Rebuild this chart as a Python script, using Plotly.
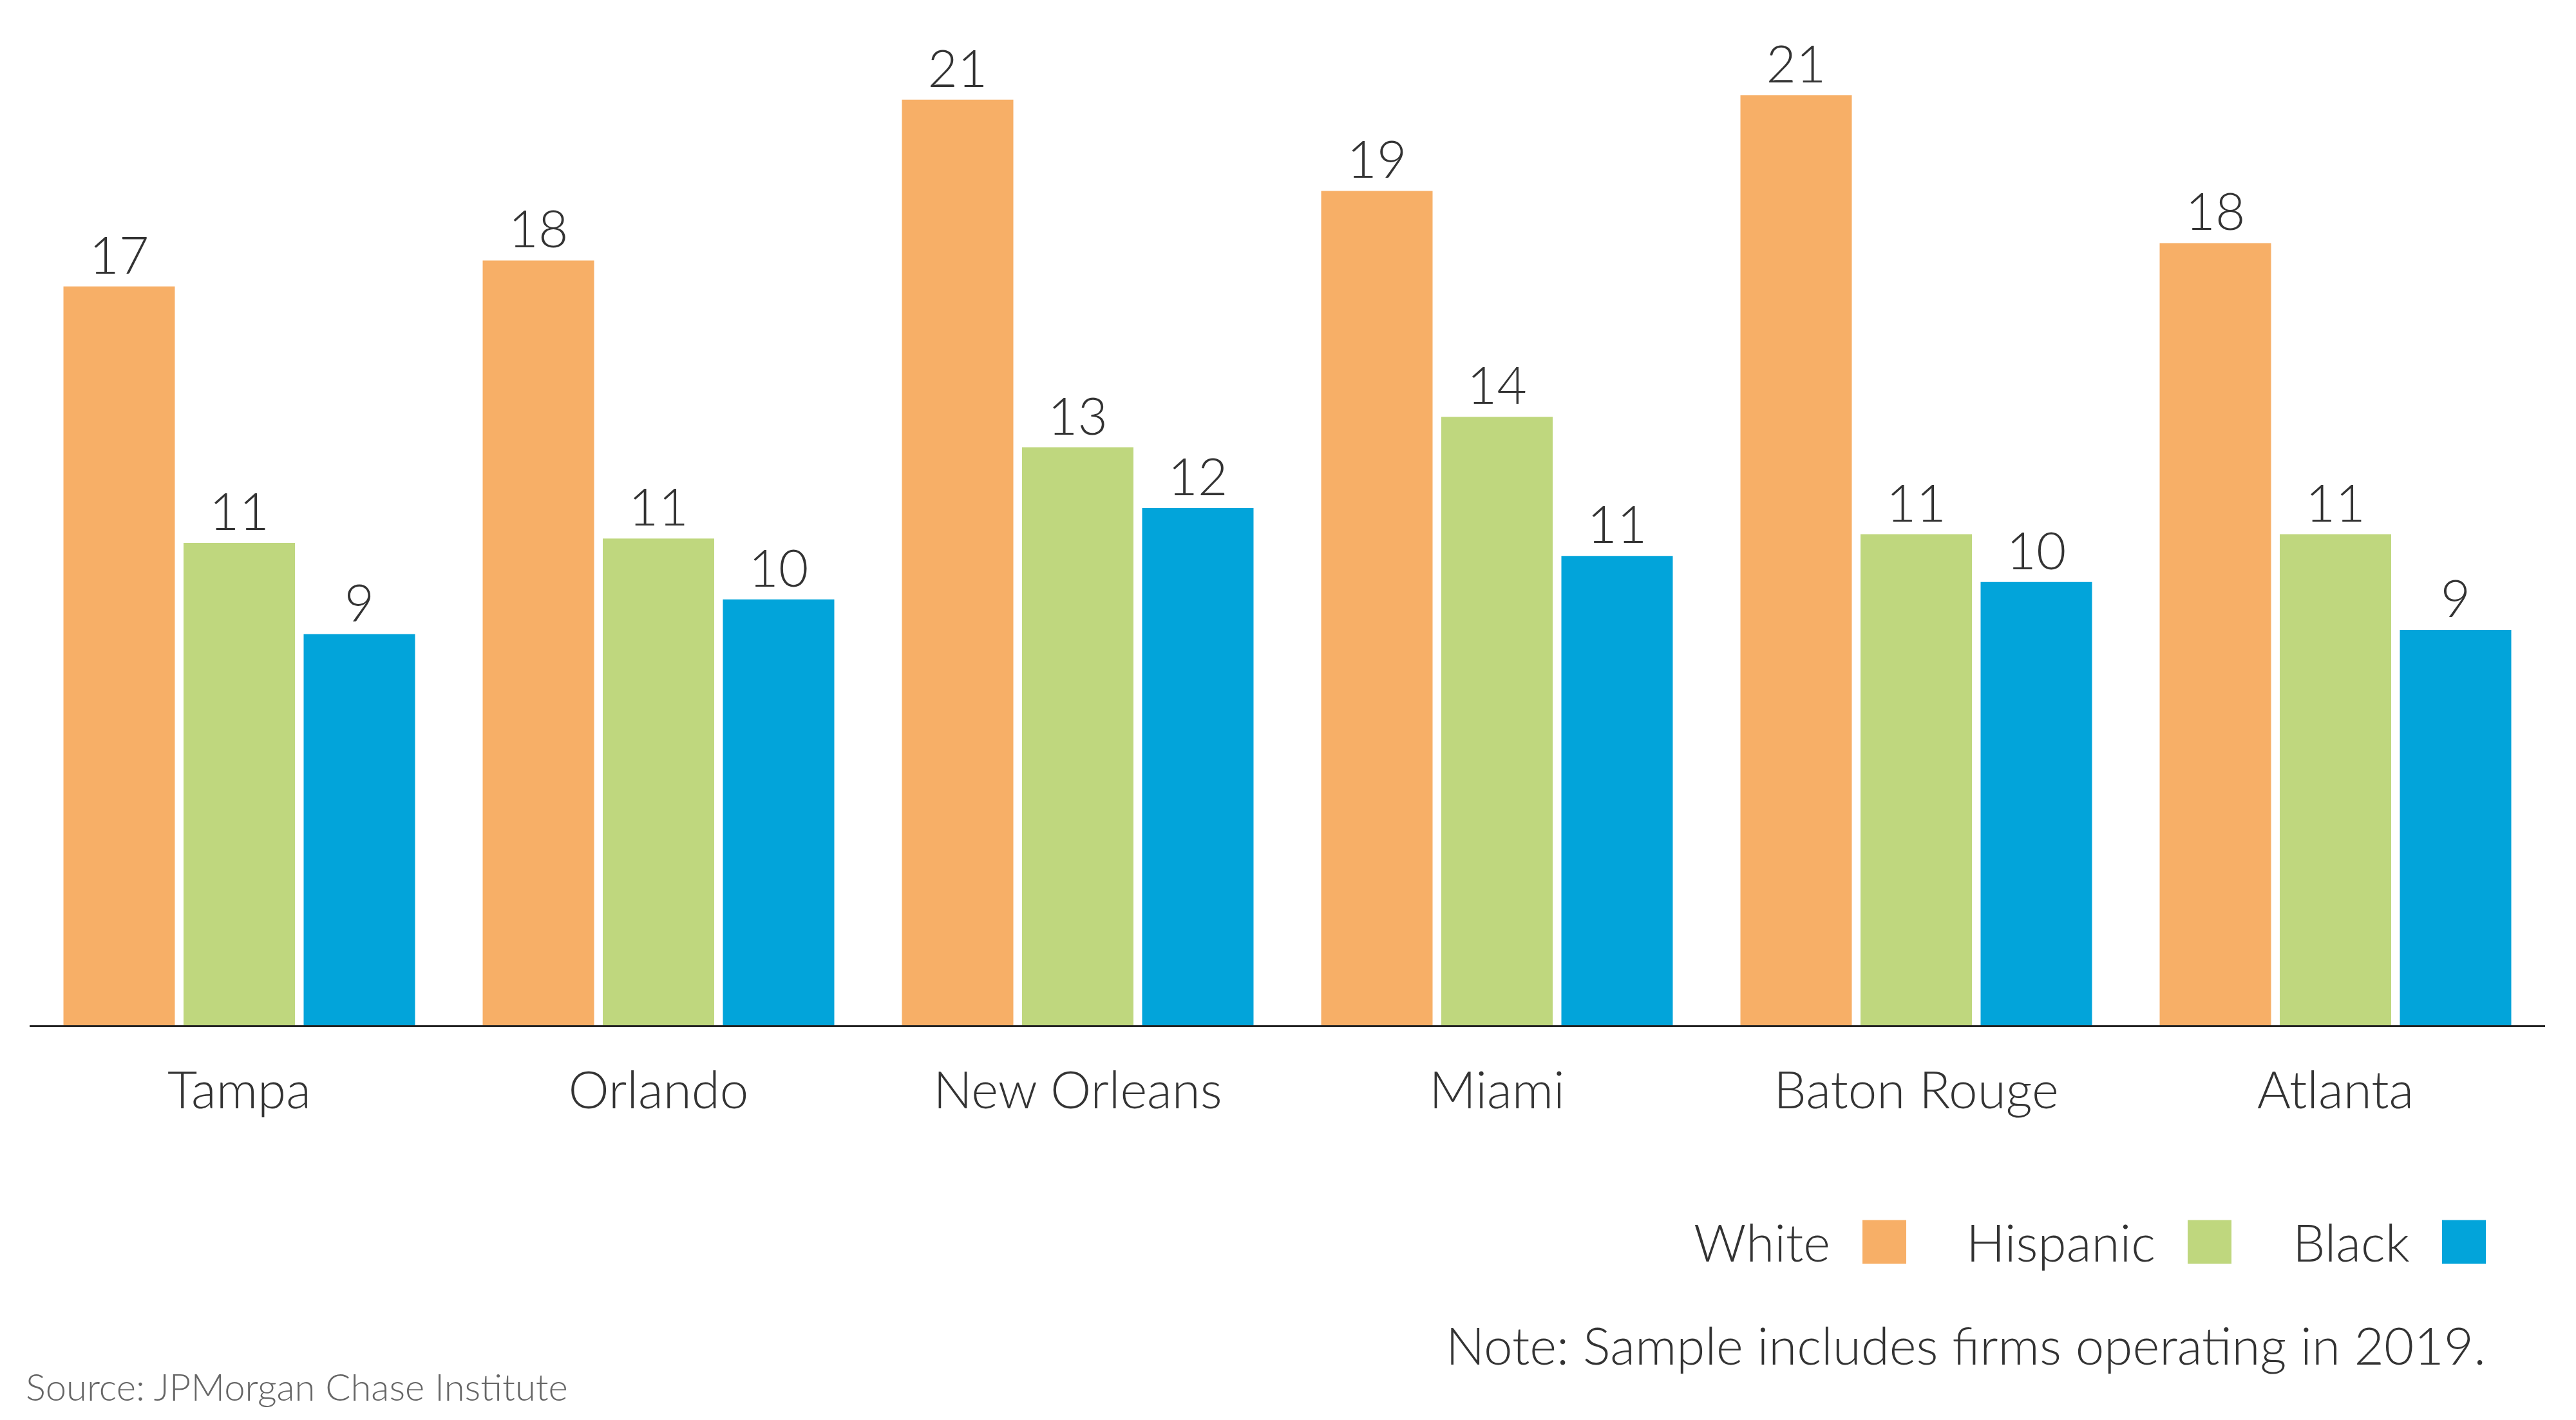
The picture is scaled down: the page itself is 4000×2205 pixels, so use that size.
import plotly.graph_objects as go

cities = ["Tampa", "Orlando", "New Orleans", "Miami", "Baton Rouge", "Atlanta"]
series_names = ["White", "Hispanic", "Black"]
white = [17.0, 17.6, 21.3, 19.2, 21.4, 18.0]
hispanic = [11.1, 11.2, 13.3, 14.0, 11.3, 11.3]
black = [9.0, 9.8, 11.9, 10.8, 10.2, 9.1]
colors = ["#F7AF67", "#BFD77E", "#02A4DA"]
note_text = "Note: Sample includes firms operating in 2019."
source_text = "Source: JPMorgan Chase Institute"

FONT = "Lato, sans-serif"
WEIGHT = 300
TXT = "#333333"

fig = go.Figure()
for name, vals, col in zip(series_names, [white, hispanic, black], colors):
    fig.add_trace(go.Bar(
        x=cities, y=vals, name=name, marker=dict(color=col, line=dict(width=0)),
        texttemplate="%{y:.0f}", textposition="outside", cliponaxis=False,
        textfont=dict(family=FONT, size=80, color=TXT, weight=WEIGHT),
        showlegend=False,
    ))

W, H = 4000, 2205
ml, mr, mt, mb = 46, 48, 40, 612.5
pw = W - ml - mr
ph = H - mt - mb

def px(xp):
    return (xp - ml) / pw

def py(yp):
    return (H - mb - yp) / ph

# custom legend (text to the left of each swatch)
legend_boxes = [2892, 3397, 3792]
shapes = []
annotations = []
for name, col, bx in zip(series_names, colors, legend_boxes):
    shapes.append(dict(type="rect", xref="paper", yref="paper",
                       x0=px(bx), x1=px(bx + 68), y0=py(1963), y1=py(1895),
                       fillcolor=col, line=dict(width=0)))
    annotations.append(dict(text=name, xref="paper", yref="paper",
                            x=px(bx - 48), y=py(1929), xanchor="right", yanchor="middle",
                            showarrow=False,
                            font=dict(family=FONT, size=80, color=TXT, weight=WEIGHT)))

annotations.append(dict(text=note_text, xref="paper", yref="paper",
                        x=px(3862), y=py(2089), xanchor="right", yanchor="middle",
                        showarrow=False,
                        font=dict(family=FONT, size=80, color=TXT, weight=WEIGHT)))
annotations.append(dict(text=source_text, xref="paper", yref="paper",
                        x=px(38), y=py(2153), xanchor="left", yanchor="middle",
                        showarrow=False,
                        font=dict(family=FONT, size=58, color="#666666", weight=WEIGHT)))

fig.update_layout(
    width=W, height=H,
    margin=dict(l=ml, r=mr, t=mt, b=mb, pad=0),
    paper_bgcolor="white", plot_bgcolor="white",
    barmode="group", bargap=0.1406, bargroupgap=0.0724,
    shapes=shapes, annotations=annotations,
    xaxis=dict(showline=True, linecolor="#222222", linewidth=3, ticks="",
               showgrid=False, zeroline=False, ticklabelstandoff=30,
               tickfont=dict(family=FONT, size=80, color=TXT, weight=WEIGHT)),
    yaxis=dict(range=[0, 23], visible=False, showgrid=False, zeroline=False),
)

fig.write_html("out.html")
